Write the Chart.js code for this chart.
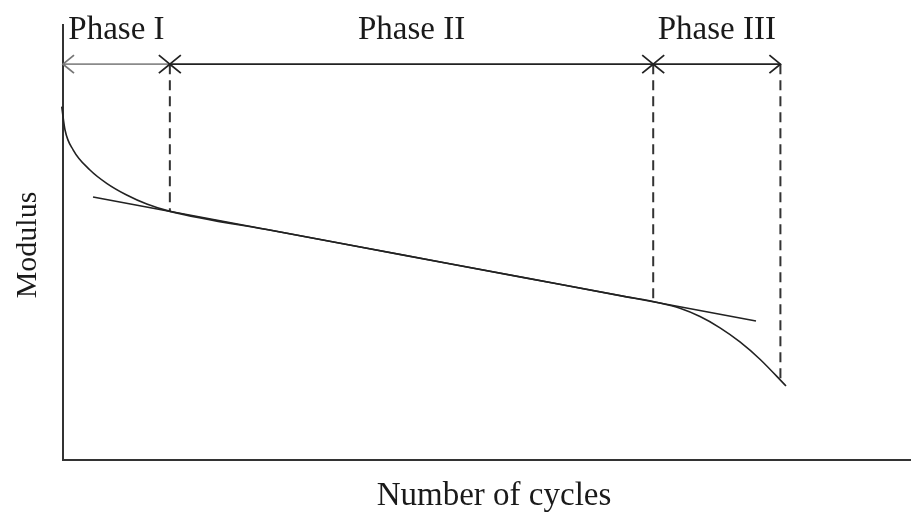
<!DOCTYPE html>
<html>
<head>
<meta charset="utf-8">
<script src="https://cdn.jsdelivr.net/npm/chart.js@4/dist/chart.umd.min.js"></script>
<style>
  html, body { margin: 0; padding: 0; background: #ffffff; }
  canvas { display: block; }
</style>
</head>
<body>
<canvas id="c" width="911" height="516"></canvas>
<script>
// Schematic values (arbitrary units: cycles 0–100, modulus 0–100)
const curveCycles  = [-0.15, 0.24, 1.21, 3.18, 5.15, 7.51, 9.88, 12.62, 25.0, 40.0, 55.0, 66.0, 70.40, 72.76, 75.12, 77.48, 79.83, 82.19, 85.26];
const curveModulus = [81.22, 75.86, 71.26, 66.67, 63.61, 60.92, 58.85, 57.15, 52.63, 47.16, 41.69, 37.68, 36.08, 34.87, 32.97, 30.39, 27.15, 23.17, 17.01];
const tangentCycles  = [3.54, 81.72];
const tangentModulus = [60.46, 31.95];
const phaseBounds = [0, 12.6, 69.6, 84.6];
const boundaryModulus = [57.15, 36.4, 18.6];
const arrowLevel = 91.0;
const phaseLabels = ['Phase I', 'Phase II', 'Phase III'];
const xTitle = 'Number of cycles';
const yTitle = 'Modulus';

const FONT = '"Liberation Serif", "DejaVu Serif", serif';
const INK = '#1a1a1a';

const pts = (xs, ys) => xs.map((x, i) => ({x: x, y: ys[i]}));

const datasets = [];
datasets.push({
  label: 'modulus', data: pts(curveCycles, curveModulus),
  borderColor: '#222', borderWidth: 1.6, cubicInterpolationMode: 'monotone',
  pointRadius: 0, showLine: true, clip: false
});
datasets.push({
  label: 'tangent', data: pts(tangentCycles, tangentModulus),
  borderColor: '#222', borderWidth: 1.6, pointRadius: 0, showLine: true, clip: false
});
// dashed boundaries
for (let i = 1; i < phaseBounds.length; i++) {
  datasets.push({
    label: 'bound' + i,
    data: [{x: phaseBounds[i], y: arrowLevel}, {x: phaseBounds[i], y: boundaryModulus[i - 1]}],
    borderColor: '#333', borderWidth: 2, borderDash: [10, 6], pointRadius: 0, showLine: true, clip: false
  });
}
// arrow shafts
for (let i = 0; i < phaseLabels.length; i++) {
  datasets.push({
    label: 'arrow' + i,
    data: [{x: phaseBounds[i], y: arrowLevel}, {x: phaseBounds[i + 1], y: arrowLevel}],
    borderColor: i === 0 ? '#8a8a8a' : '#222', borderWidth: 1.8, pointRadius: 0, showLine: true, clip: false
  });
}

const decor = {
  id: 'decor',
  afterDatasetsDraw(chart) {
    const ctx = chart.ctx;
    const xs = chart.scales.x, ys = chart.scales.y;
    const ay = ys.getPixelForValue(arrowLevel);
    ctx.save();
    ctx.lineWidth = 1.8;
    const L = 11, H = 9;
    for (let i = 0; i < phaseLabels.length; i++) {
      const x0 = xs.getPixelForValue(phaseBounds[i]);
      const x1 = xs.getPixelForValue(phaseBounds[i + 1]);
      ctx.strokeStyle = i === 0 ? '#777' : '#222';
      ctx.beginPath();
      ctx.moveTo(x0 + L, ay - H); ctx.lineTo(x0, ay); ctx.lineTo(x0 + L, ay + H);
      ctx.stroke();
      ctx.strokeStyle = '#222';
      ctx.beginPath();
      ctx.moveTo(x1 - L, ay - H); ctx.lineTo(x1, ay); ctx.lineTo(x1 - L, ay + H);
      ctx.stroke();
      ctx.fillStyle = INK;
      ctx.font = '33px ' + FONT;
      ctx.textAlign = 'center';
      ctx.textBaseline = 'alphabetic';
      ctx.fillText(phaseLabels[i], (x0 + x1) / 2, 39);
    }
    // axis titles
    ctx.fillStyle = INK;
    ctx.font = '33px ' + FONT;
    ctx.textAlign = 'center';
    ctx.fillText(xTitle, 494, 505);
    ctx.font = '30px ' + FONT;
    ctx.translate(36, 245);
    ctx.rotate(-Math.PI / 2);
    ctx.fillText(yTitle, 0, 0);
    ctx.restore();
  }
};

new Chart(document.getElementById('c'), {
  type: 'scatter',
  data: { datasets: datasets },
  options: {
    responsive: false,
    animation: false,
    layout: { padding: { left: 63, right: 0, top: 25, bottom: 56 } },
    plugins: { legend: { display: false }, tooltip: { enabled: false } },
    scales: {
      x: {
        type: 'linear', min: 0, max: 100,
        grid: { display: false, drawTicks: false },
        ticks: { display: false },
        border: { display: true, color: '#333', width: 2 }
      },
      y: {
        type: 'linear', min: 0, max: 100,
        grid: { display: false, drawTicks: false },
        ticks: { display: false },
        border: { display: true, color: '#333', width: 2 }
      }
    }
  },
  plugins: [decor]
});
</script>
</body>
</html>
